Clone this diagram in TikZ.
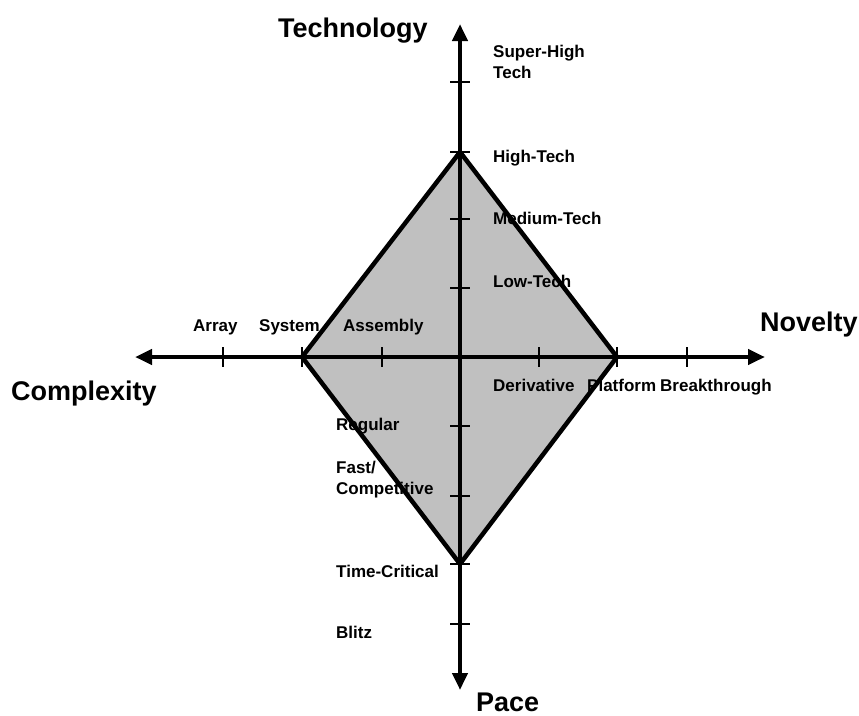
\documentclass[tikz,border=0pt]{standalone}
\usepackage{fontspec}
\setmainfont{Liberation Sans}
\usetikzlibrary{arrows.meta}
\definecolor{diamondgray}{RGB}{192,192,192}
\tikzset{
  axis/.style={line width=4.5pt,-{Triangle[length=17pt,width=15pt]}},
  tickline/.style={line width=1.2pt},
  outline/.style={line width=4.5pt,line join=miter},
  title/.style={font=\fontsize{27}{30}\selectfont\bfseries,inner sep=0pt,anchor=base west},
  level/.style={font=\fontsize{17}{21}\selectfont\bfseries,inner sep=0pt,anchor=base west,align=left}
}
\begin{document}
\begin{tikzpicture}[x=1pt,y=-1pt]

      \useasboundingbox (0,0) rectangle (859,715);

      % axis ends and corners of the profile
      \coordinate (o)   at (460,357);
      \coordinate (up)  at (460,24);
      \coordinate (dn)  at (460,690);
      \coordinate (lt)  at (135,357);
      \coordinate (rt)  at (765,357);
      \coordinate (hi)  at (460,152);
      \coordinate (pf)  at (617,357);
      \coordinate (tc)  at (460,564);
      \coordinate (sy)  at (302,357);

      \fill[diamondgray] (hi) -- (pf) -- (tc) -- (sy) -- cycle;

      \node[title] (tech) at (278,37)  {Technology};
      \node[title] (nov)  at (760,331) {Novelty};
      \node[title] (cplx) at (11,400)  {Complexity};
      \node[title] (pace) at (476,711) {Pace};

      \node[level] (shi) at (493,78)  {Super-High\\Tech};
      \node[level] (htc) at (493,162) {High-Tech};
      \node[level] (mtc) at (493,224) {Medium-Tech};
      \node[level] (ltc) at (493,287) {Low-Tech};

      \node[level] (arr) at (193,331) {Array};
      \node[level] (sys) at (259,331) {System};
      \node[level] (asm) at (343,331) {Assembly};

      \node[level] (der) at (493,391) {Derivative};
      \node[level] (pla) at (587,391) {Platform};
      \node[level] (brk) at (660,391) {Breakthrough};

      \node[level] (reg) at (336,430) {Regular};
      \node[level] (fst) at (336,494) {Fast/\\Competitive};
      \node[level] (tcr) at (336,577) {Time-Critical};
      \node[level] (blz) at (336,638) {Blitz};

      \draw[tickline] (450,82) -- (470,82)  (450,152) -- (470,152)
                      (450,219) -- (470,219) (450,288) -- (470,288)
                      (450,426) -- (470,426) (450,496) -- (470,496)
                      (450,564) -- (470,564) (450,624) -- (470,624);
      \draw[tickline] (223,347) -- (223,367) (302,347) -- (302,367)
                      (382,347) -- (382,367) (539,347) -- (539,367)
                      (617,347) -- (617,367) (687,347) -- (687,367);

      \draw[outline] (hi) -- (pf) -- (tc) -- (sy) -- cycle;

      \draw[axis] (o) -- (up);
      \draw[axis] (o) -- (dn);
      \draw[axis] (o) -- (lt);
      \draw[axis] (o) -- (rt);

    \end{tikzpicture}
\end{document}
